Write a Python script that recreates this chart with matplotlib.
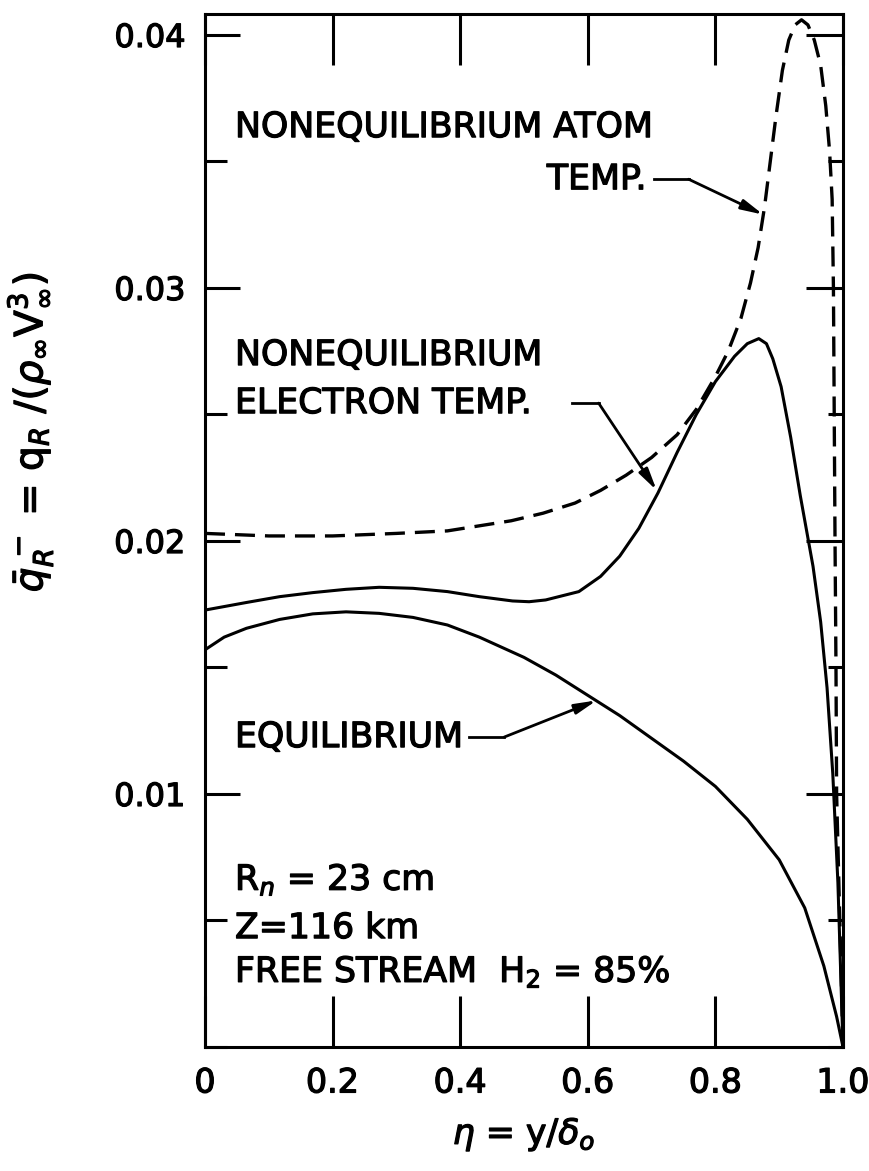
import matplotlib
matplotlib.use('Agg')
import matplotlib.pyplot as plt
import matplotlib.patheffects as pe
from matplotlib.ticker import MultipleLocator, FixedLocator

# values, eta = y/delta_0
eta_equil = [0.0, 0.03, 0.065, 0.117, 0.169, 0.221, 0.273, 0.326, 0.38, 0.43,
             0.50, 0.55, 0.60, 0.65, 0.70, 0.75, 0.80, 0.85, 0.90, 0.94,
             0.97, 0.99, 1.0]
q_equil = [0.0157, 0.0162, 0.01655, 0.0169, 0.01712, 0.0172, 0.01714, 0.01698, 0.01668, 0.0162,
           0.0154, 0.0147, 0.0139, 0.0131, 0.0122, 0.0113, 0.0103, 0.0090, 0.0074, 0.0055,
           0.0032, 0.0012, 0.0]

eta_elec = [0.0, 0.065, 0.117, 0.169, 0.221, 0.273, 0.326, 0.38, 0.43, 0.482,
            0.508, 0.534, 0.586, 0.62, 0.65, 0.68, 0.71, 0.74, 0.77, 0.80,
            0.83, 0.85, 0.868, 0.88, 0.89, 0.903, 0.918, 0.933, 0.953, 0.965,
            0.975, 0.984, 0.992, 1.0]
q_elec = [0.01727, 0.01757, 0.0178, 0.01796, 0.01809, 0.01817, 0.01813, 0.0180, 0.0178, 0.01763,
          0.0176, 0.01767, 0.0180, 0.0186, 0.0194, 0.0205, 0.0219, 0.0235, 0.0250, 0.0263,
          0.0273, 0.0278, 0.0280, 0.0278, 0.0272, 0.0261, 0.0241, 0.0218, 0.0190, 0.0168,
          0.0142, 0.0108, 0.0065, 0.0]

eta_atom = [0.0, 0.1, 0.2, 0.3, 0.38, 0.43, 0.48, 0.53, 0.58, 0.62,
            0.66, 0.70, 0.74, 0.77, 0.80, 0.82, 0.84, 0.855, 0.867, 0.877,
            0.886, 0.895, 0.905, 0.915, 0.925, 0.935, 0.945, 0.955, 0.965, 0.973,
            0.979, 0.983, 0.985, 0.9875, 0.989, 0.990, 1.0]
q_atom = [0.0203, 0.0202, 0.0202, 0.0203, 0.0204, 0.0206, 0.0208, 0.0211, 0.0215, 0.0220,
          0.0226, 0.0233, 0.0242, 0.0252, 0.0265, 0.0275, 0.0288, 0.0302, 0.0316, 0.0332,
          0.0350, 0.0368, 0.0386, 0.0398, 0.0404, 0.0406, 0.0404, 0.0398, 0.0388, 0.0372,
          0.0354, 0.0335, 0.0300, 0.0200, 0.0150, 0.0100, 0.0]

x_ticks = [0.0, 0.2, 0.4, 0.6, 0.8, 1.0]
x_ticklabels = ['0', '0.2', '0.4', '0.6', '0.8', '1.0']
y_ticks = [0.01, 0.02, 0.03, 0.04]
y_ticklabels = ['0.01', '0.02', '0.03', '0.04']

plt.rcParams['font.family'] = 'DejaVu Sans'
bold = [pe.withStroke(linewidth=0.9, foreground='black')]

fig = plt.figure(figsize=(8.7, 11.71), dpi=100)
ax = fig.add_axes([205 / 870, 1 - 1047 / 1171, 638 / 870, (1047 - 14) / 1171])

lw = 2.2
ax.plot(eta_equil, q_equil, color='k', lw=lw, solid_joinstyle='round')
ax.plot(eta_elec, q_elec, color='k', lw=lw, solid_joinstyle='round')
ax.plot(eta_atom, q_atom, color='k', lw=2.4, linestyle=(0, (6, 3)))

ax.set_xlim(0, 1.0)
ax.set_ylim(0, 0.04083)

for s in ax.spines.values():
    s.set_linewidth(2.2)

# x ticks on bottom and top, pointing in
ax.xaxis.set_major_locator(FixedLocator(x_ticks))
ax.set_xticklabels(x_ticklabels, fontsize=24)
ax.tick_params(axis='x', which='major', direction='in', length=37, width=2.2,
               top=True, bottom=True, pad=14)

# left y ticks
ax.yaxis.set_major_locator(FixedLocator(y_ticks))
ax.yaxis.set_minor_locator(MultipleLocator(0.005))
ax.set_yticklabels(y_ticklabels, fontsize=23)
ax.tick_params(axis='y', which='major', direction='in', length=25, width=2.2, pad=14)
ax.tick_params(axis='y', which='minor', direction='in', length=16, width=2.2)
for t in ax.get_xticklabels() + ax.get_yticklabels():
    t.set_path_effects(bold)

# right y ticks (different lengths)
axr = ax.twinx()
axr.set_ylim(ax.get_ylim())
axr.yaxis.set_major_locator(FixedLocator(y_ticks))
axr.yaxis.set_minor_locator(MultipleLocator(0.005))
axr.set_yticklabels([])
axr.tick_params(axis='y', which='major', direction='in', length=27, width=2.2)
axr.tick_params(axis='y', which='minor', direction='in', length=11, width=2.2)
for s in axr.spines.values():
    s.set_visible(False)

ax.set_xlabel(r'$\eta$ = y/$\delta_o$', fontsize=25, labelpad=12, path_effects=bold)
ax.set_ylabel(r'$\bar{q}_R^{\,-}$ = q$_R$ /($\rho_\infty$V$_\infty^3$)', fontsize=28,
              path_effects=bold)
ax.yaxis.set_label_coords(-0.235, 0.595)

fs = 25
notes = [
    (0.047, 0.03636, 'NONEQUILIBRIUM ATOM', 'left'),
    (0.692, 0.0343, 'TEMP.', 'right'),
    (0.047, 0.02735, 'NONEQUILIBRIUM', 'left'),
    (0.047, 0.02545, 'ELECTRON TEMP.', 'left'),
    (0.047, 0.01225, 'EQUILIBRIUM', 'left'),
    (0.047, 0.0066, r'R$_n$ = 23 cm', 'left'),
    (0.047, 0.0047, 'Z=116 km', 'left'),
    (0.047, 0.00296, r'FREE STREAM  H$_2$ = 85%', 'left'),
]
for x, y, s, ha in notes:
    ax.text(x, y, s, fontsize=fs, ha=ha, va='center', path_effects=bold)


def leader(xs, ys):
    ax.plot(xs[:-1], ys[:-1], color='k', lw=2.0)
    ax.annotate('', xy=(xs[-1], ys[-1]), xytext=(xs[-2], ys[-2]),
                arrowprops=dict(arrowstyle='-|>,head_length=1.3,head_width=0.3',
                                color='k', lw=2.0, shrinkA=0, shrinkB=0))


leader([0.703, 0.758, 0.875], [0.0343, 0.0343, 0.0329])
leader([0.575, 0.617, 0.708], [0.02545, 0.02545, 0.0220])
leader([0.414, 0.469, 0.614], [0.01225, 0.01225, 0.0137])

fig.savefig('out.png', dpi=100)
